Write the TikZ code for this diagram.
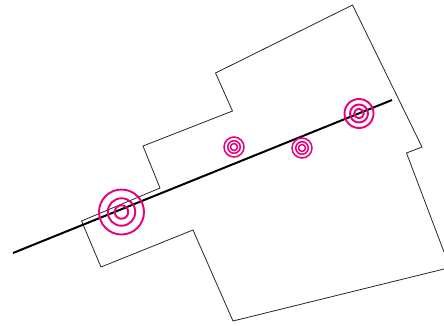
\documentclass[tikz,border=0pt]{standalone}
\usepackage{tikz}
\definecolor{ringpink}{RGB}{230,0,126}
\tikzstyle{ring}=[circle,draw=ringpink,line width=1.9pt,inner sep=0pt]
\tikzstyle{smallring}=[circle,draw=ringpink,line width=1.5pt,inner sep=0pt]
\tikzstyle{outline}=[line width=0.8pt,black!85,line join=miter]
\begin{document}
\begin{tikzpicture}[x=1pt,y=-1pt]
    \useasboundingbox (0,0) rectangle (444,325);
    \draw[outline] (444,252) -- (406.5,153) -- (422,147) -- (352.5,5) -- (215.5,73) -- (232.5,111) -- (143,146)
        -- (160,188) -- (81.5,221) -- (101,267) -- (193,230) -- (233,321) -- (444,269);

    \coordinate (start) at (13,253);
    \coordinate (end) at (392,100);
    \draw[line width=2pt] (start) -- (end);

    % big ones
    \foreach \pos/\name/\rone/\rtwo/\rthree in {{(121.5,212)/left/45pt/27.5pt/13.5pt}, {(359,113.5)/right/29pt/18pt/9.5pt}} {
        \node[ring, minimum size=\rone] (\name a) at \pos {};
        \node[ring, minimum size=\rtwo] (\name b) at \pos {};
        \node[ring, minimum size=\rthree] (\name c) at \pos {};
    }
    % small ones
    \foreach \pos/\name in {{(234,147)/midl}, {(302,148)/midr}} {
        \node[smallring, minimum size=20pt] (\name a) at \pos {};
        \node[smallring, minimum size=12.5pt] (\name b) at \pos {};
        \node[smallring, minimum size=7pt] (\name c) at \pos {};
    }
\end{tikzpicture}
\end{document}
